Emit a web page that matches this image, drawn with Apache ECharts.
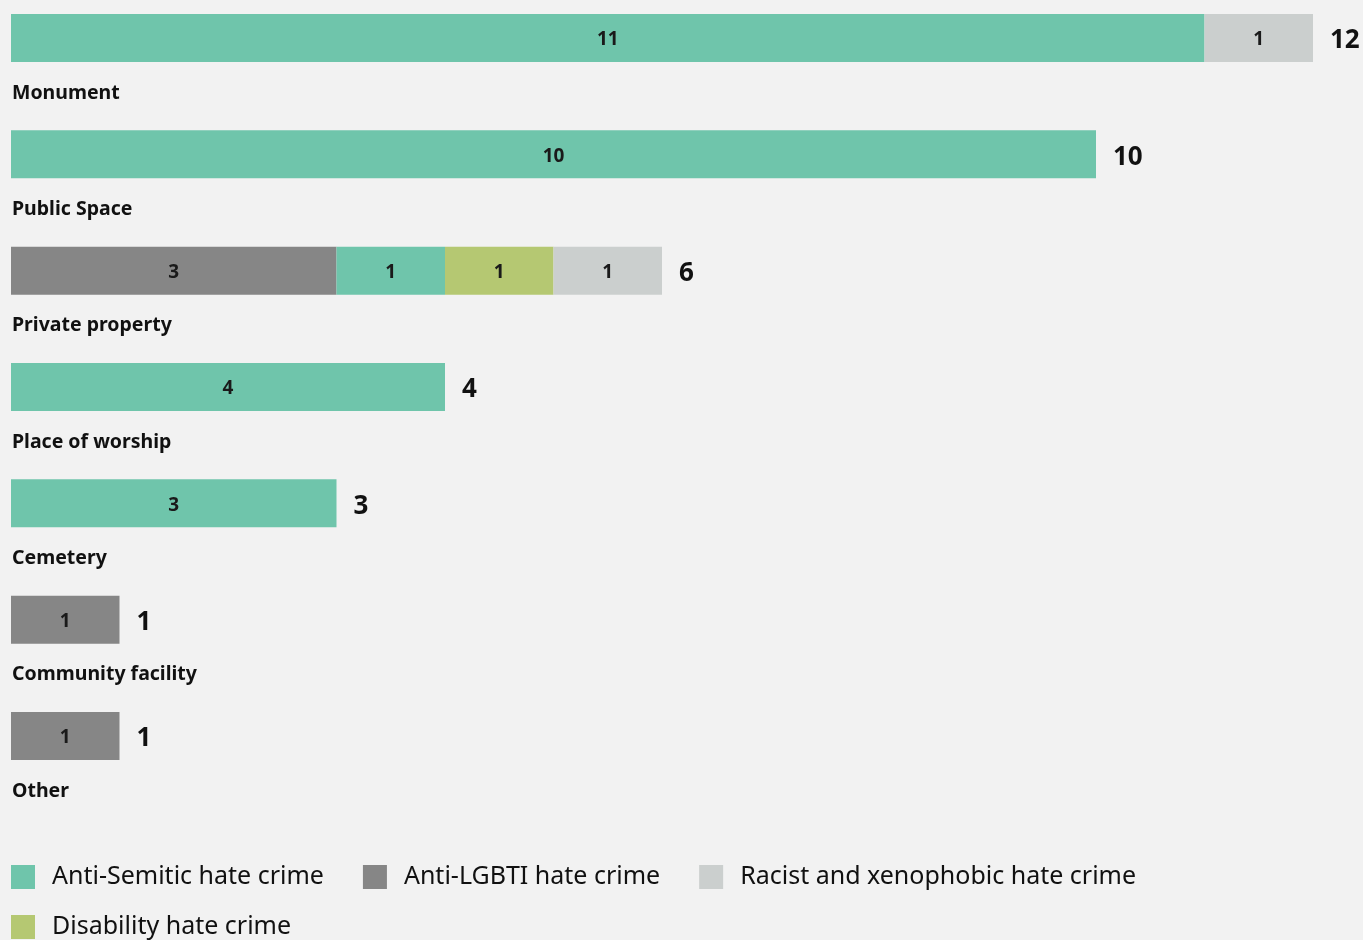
<!DOCTYPE html>
<html>
<head>
<meta charset="utf-8">
<script src="https://cdn.jsdelivr.net/npm/echarts@6/dist/echarts.min.js"></script>
<style>
  html, body { margin: 0; padding: 0; background: #f2f2f2; }
  #chart { width: 1363px; height: 940px; }
</style>
</head>
<body>
<div id="chart"></div>
<script>
// categories, top to bottom
var categories = ['Monument', 'Public Space', 'Private property', 'Place of worship', 'Cemetery', 'Community facility', 'Other'];

// values per series (stack order as drawn: LGBTI, Semitic, Disability, Racist)
var antiLgbti   = [0, 0, 3, 0, 0, 1, 1];
var antiSemitic = [11, 10, 1, 4, 3, 0, 0];
var disability  = [0, 0, 1, 0, 0, 0, 0];
var racist      = [1, 0, 1, 0, 0, 0, 0];

var totals = categories.map(function (c, i) {
  return antiLgbti[i] + antiSemitic[i] + disability[i] + racist[i];
});

var legendOrder = ['Anti-Semitic hate crime', 'Anti-LGBTI hate crime', 'Racist and xenophobic hate crime', 'Disability hate crime'];

var font = "'Noto Sans', sans-serif";

var chart = echarts.init(document.getElementById('chart'));

function seg(name, data, color) {
  return {
    name: name,
    type: 'bar',
    stack: 'all',
    barWidth: 48,
    data: data,
    itemStyle: { color: color },
    label: {
      show: true,
      position: 'inside',
      offset: [0, 2],
      fontFamily: font,
      fontWeight: 'bold',
      fontSize: 19,
      color: '#1a1a1a',
      formatter: function (p) { return p.value ? p.value : ''; }
    },
    emphasis: { disabled: true }
  };
}

var option = {
  backgroundColor: '#f2f2f2',
  animation: false,
  grid: { left: 11, right: 50, top: 38, height: 698 },
  xAxis: { type: 'value', min: 0, max: 12, show: false },
  yAxis: {
    type: 'category',
    inverse: true,
    boundaryGap: false,
    data: categories,
    axisLine: { show: false },
    axisTick: { show: false },
    axisLabel: { show: false },
    splitLine: { show: false }
  },
  legend: {
    data: legendOrder,
    left: 11,
    top: 862,
    padding: 0,
    width: 1200,
    icon: 'rect',
    itemWidth: 24,
    itemHeight: 24,
    itemGap: 20,
    selectedMode: false,
    textStyle: {
      fontFamily: font,
      fontSize: 25,
      color: '#111',
      lineHeight: 30,
      padding: [0, 19, 0, 12]
    }
  },
  series: [
    seg('Anti-LGBTI hate crime', antiLgbti, '#868686'),
    seg('Anti-Semitic hate crime', antiSemitic, '#6fc5ab'),
    seg('Disability hate crime', disability, '#b5c872'),
    seg('Racist and xenophobic hate crime', racist, '#cbcfce'),
    {
      name: 'Total',
      type: 'bar',
      stack: 'all',
      barWidth: 48,
      data: totals.map(function () { return 0; }),
      itemStyle: { color: 'transparent' },
      label: {
        show: true,
        position: 'right',
        distance: 17,
        offset: [0, 3],
        fontFamily: font,
        fontWeight: 'bold',
        fontSize: 26,
        color: '#111',
        formatter: function (p) { return totals[p.dataIndex]; }
      },
      emphasis: { disabled: true }
    },
    {
      // category names, drawn under each bar
      name: 'Names',
      type: 'bar',
      stack: 'names',
      barWidth: 48,
      barGap: '-100%',
      data: categories.map(function () { return 0; }),
      itemStyle: { color: 'transparent' },
      label: {
        show: true,
        position: [1, 79],
        align: 'left',
        verticalAlign: 'middle',
        fontFamily: font,
        fontWeight: 'bold',
        fontSize: 19.5,
        color: '#111',
        formatter: function (p) { return categories[p.dataIndex]; }
      },
      emphasis: { disabled: true }
    }
  ]
};

chart.setOption(option);
</script>
</body>
</html>
